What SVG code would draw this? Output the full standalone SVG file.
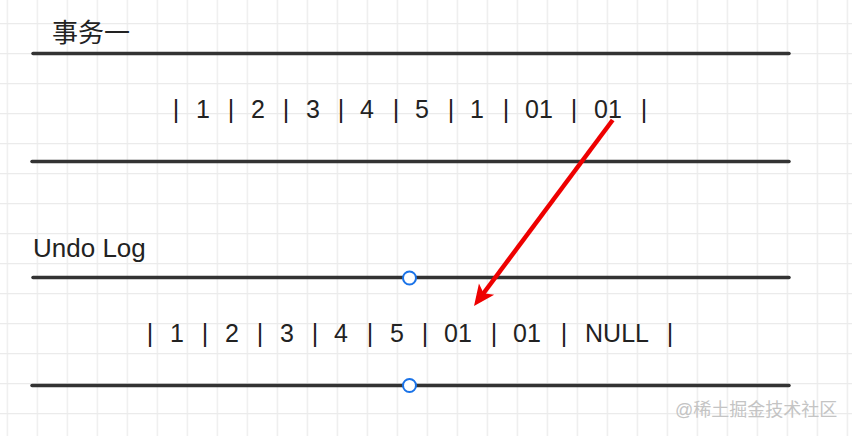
<svg xmlns="http://www.w3.org/2000/svg" width="852" height="436" viewBox="0 0 852 436">
  <style>
    .bar { stroke: #333333; stroke-width: 3.5; stroke-linecap: round; fill: none; }
    .lbl { font-family: "Liberation Sans", "Noto Sans CJK SC", sans-serif; font-size: 26px; fill: #222222; }
    .cells { font-family: "Liberation Sans", "Noto Sans CJK SC", sans-serif; font-size: 25px; fill: #222222; text-anchor: middle; }
    .handle { fill: #ffffff; stroke: #1a73e8; stroke-width: 2; }
    .arrow { stroke: #ee0000; stroke-width: 4.5; fill: none; }
    .wm { font-family: "Liberation Sans", "Noto Sans CJK SC", sans-serif; font-size: 18px; fill: #c4c4c4; }
  </style>
  <defs>
    <pattern id="grid" patternUnits="userSpaceOnUse" x="6.7" y="23" width="30" height="30">
      <path d="M0 0.5 H30 M0.5 0 V30" stroke="#ebebeb" stroke-width="1.5" fill="none"/>
    </pattern>
    <marker id="head" markerUnits="userSpaceOnUse" viewBox="-12 -12 24 24" refX="0" refY="0" markerWidth="24" markerHeight="24" orient="auto" overflow="visible">
      <path d="M10 0 L-11 -9.5 L-6 0 L-11 9.5 Z" fill="#ee0000"/>
    </marker>
  </defs>
  <rect width="852" height="436" fill="#ffffff"/>
  <rect width="852" height="436" fill="url(#grid)"/>

  <g id="txn">
    <text class="lbl" x="52" y="42" font-family="'Noto Sans CJK SC', sans-serif">事务一</text>
    <line class="bar" x1="33" y1="53.5" x2="789" y2="53.5"/>
    <text class="cells" y="118"><tspan x="176">|</tspan><tspan x="203">1</tspan><tspan x="231">|</tspan><tspan x="258">2</tspan><tspan x="286">|</tspan><tspan x="313">3</tspan><tspan x="341">|</tspan><tspan x="367">4</tspan><tspan x="396">|</tspan><tspan x="422">5</tspan><tspan x="451">|</tspan><tspan x="477">1</tspan><tspan x="506">|</tspan><tspan x="539">01</tspan><tspan x="574">|</tspan><tspan x="608">01</tspan><tspan x="644">|</tspan></text>
    <line class="bar" x1="32" y1="161.5" x2="789" y2="161.5"/>
  </g>

  <g id="undo">
    <text class="lbl" x="33" y="257">Undo Log</text>
    <line class="bar" x1="33" y1="277.5" x2="789" y2="277.5"/>
    <text class="cells" y="341.5"><tspan x="150">|</tspan><tspan x="177">1</tspan><tspan x="205">|</tspan><tspan x="232">2</tspan><tspan x="260">|</tspan><tspan x="287">3</tspan><tspan x="315">|</tspan><tspan x="341">4</tspan><tspan x="370">|</tspan><tspan x="397">5</tspan><tspan x="425">|</tspan><tspan x="458">01</tspan><tspan x="494">|</tspan><tspan x="527">01</tspan><tspan x="564">|</tspan><tspan x="617">NULL</tspan><tspan x="670">|</tspan></text>
    <line class="bar" x1="32" y1="385.5" x2="789" y2="385.5"/>
    <circle class="handle" cx="409.5" cy="278" r="6.5"/>
    <circle class="handle" cx="409.5" cy="385.5" r="6.5"/>
  </g>

  <g id="connectors">
    <line class="arrow" x1="612.7" y1="120" x2="480" y2="298" marker-end="url(#head)"/>
  </g>

  <text class="wm" x="675" y="416">@稀土掘金技术社区</text>
</svg>
